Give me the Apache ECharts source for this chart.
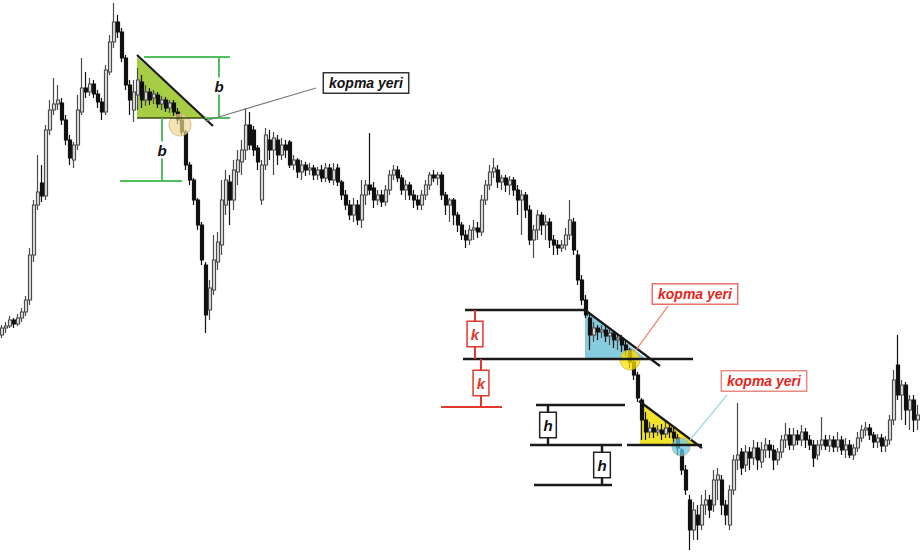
<!DOCTYPE html>
<html><head><meta charset="utf-8">
<script src="https://cdn.jsdelivr.net/npm/echarts@6/dist/echarts.min.js"></script>
<style>html,body{margin:0;padding:0;background:#fff}#c{width:920px;height:557px}</style>
</head><body><div id="c"></div>
<script>
// candles: [open, close, low, high]
const ohlc = [
[225,232,222,235],[232,234,227,238],[234,240,232,244],[240,236,232,242],[236,242,234,246],[242,248,238,252],[248,260,244,264],[260,305,255,312],[305,355,298,360],[355,368,350,405],
[377,364,358,395],[364,430,360,435],[430,450,425,460],[450,456,445,482],[456,460,450,475],[457,440,435,462],[440,420,415,445],[420,402,395,425],[400,415,392,418],[415,450,410,465],
[448,472,445,502],[472,468,462,488],[468,476,464,482],[476,466,462,480],[466,458,452,470],[458,448,440,462],[448,490,445,495],[488,518,485,525],[518,538,512,557],[538,528,522,545],
[528,502,498,532],[502,475,470,505],[475,460,445,480],[450,468,438,480],[465,480,450,492],[478,460,452,485],[460,468,454,475],[468,460,455,472],[462,466,456,470],[465,456,452,468],
[456,460,450,464],[460,452,448,463],[452,457,447,460],[457,448,444,460],[448,440,436,452],[440,428,425,445],[428,395,390,430],[395,380,375,398],[380,360,355,382],[360,335,330,362],
[335,300,295,338],[295,245,227,298],[250,272,240,280],[270,300,265,325],[298,318,290,328],[315,360,305,380],[355,380,345,390],[378,360,335,385],[360,390,350,400],[388,400,375,410],
[398,410,385,420],[410,435,400,452],[435,415,410,448],[430,410,404,434],[412,398,390,415],[360,395,355,400],[395,425,390,432],[420,410,400,430],[410,422,385,428],[420,405,395,425],
[405,415,400,422],[415,410,402,420],[418,395,392,420],[395,400,390,405],[400,388,382,402],[388,395,380,400],[395,390,384,398],[390,392,385,397],[392,385,380,395],[385,390,380,393],
[390,382,378,395],[382,392,378,397],[392,380,377,396],[380,390,375,397],[392,378,374,396],[378,365,360,380],[365,355,350,370],[355,345,340,360],[345,355,338,362],[355,340,335,360],
[340,365,332,380],[365,375,355,380],[375,370,365,427],[372,360,352,378],[360,365,355,370],[365,358,353,370],[358,370,354,375],[370,385,365,390],[385,390,380,395],[390,382,378,394],
[382,370,365,385],[370,375,360,380],[375,365,360,378],[365,360,352,370],[360,355,350,365],[355,365,350,370],[365,375,360,380],[375,385,370,388],[385,382,378,390],[382,385,375,388],
[385,365,360,388],[365,355,345,368],[355,360,338,362],[360,345,335,362],[345,335,328,348],[335,325,320,338],[325,320,312,330],[320,330,315,335],[330,332,320,340],[332,328,322,338],
[328,360,324,365],[360,375,355,380],[375,388,370,395],[388,392,382,402],[390,378,372,395],[378,382,370,385],[382,375,368,385],[375,380,365,384],[380,370,364,383],[370,360,345,375],
[360,365,325,370],[365,350,342,368],[350,320,315,355],[320,330,302,335],[330,345,320,350],[345,335,325,348],[335,338,320,345],[338,320,312,342],[320,315,305,325],[315,312,305,320],
[312,315,308,320],[315,325,310,332],[325,340,320,360],[338,310,305,342],[305,280,275,310],[280,260,255,285],[260,245,242,265],[242,225,210,248],[225,232,218,238],[232,228,220,235],
[228,230,222,235],[230,224,218,234],[224,227,215,232],[227,220,212,230],[220,222,210,226],[222,215,208,225],[215,210,204,220],[210,198,192,212],[198,185,180,200],[185,162,158,188],
[160,140,120,162],[140,128,120,148],[128,132,122,138],[132,128,122,136],[128,130,124,135],[130,126,120,136],[126,132,122,140],[132,128,122,136],[128,122,116,132],[122,112,105,126],
[110,90,85,112],[90,70,65,95],[60,30,10,65],[30,50,20,58],[45,35,20,55],[35,55,30,65],[55,60,45,70],[60,50,42,65],[55,80,48,90],[80,85,60,92],
[80,55,45,85],[55,45,35,60],[35,70,30,75],[70,100,65,105],[100,105,90,157],[108,92,85,112],[95,108,88,115],[108,102,90,113],[102,112,95,120],[112,100,90,118],
[98,110,92,118],[110,115,102,122],[115,110,102,120],[110,100,90,115],[100,108,95,112],[108,120,102,125],[120,125,112,137],[125,115,110,132],[115,125,110,132],[125,120,115,130],
[120,128,114,135],[128,120,112,132],[120,115,110,125],[115,102,93,120],[105,115,100,120],[115,120,110,143],[120,114,110,125],[114,120,108,125],[120,113,108,124],[113,120,108,128],
[120,110,105,124],[110,115,102,122],[115,105,102,120],[105,112,100,116],[112,122,108,128],[122,130,118,135],[130,132,124,138],[132,125,120,136],[125,118,112,128],[118,122,112,126],
[122,114,108,126],[114,120,108,124],[120,140,115,145],[140,180,135,190],[195,165,160,225],[165,175,140,180],[175,150,135,178],[150,160,130,165],[160,140,128,165],[140,145,130,155]
];
const days = ohlc.map((_, i) => i + 1);

// annotation anchors in (candle index, price)
const triangles = [
  [[33.75,503],[33.75,442],[50.75,442]],
  [[145.75,250],[145.75,202],[160.75,202]],
  [[159.5,160],[159.5,115],[174,115]]
];
const triangleFills = ['rgba(150,196,35,0.85)','rgba(105,190,215,0.8)','rgba(242,224,20,0.9)'];
const hypotenuses = [
  [[33.75,505],[52.75,434]],
  [[145.75,250],[164.5,194]],
  [[159.25,159],[175,112]]
];
const greenBase = [[[33.75,442],[50.75,442]]];
const bLines = [
  [[35.5,503],[57,503]], [[50.75,442],[57,442]],
  [[54.25,503],[54.25,442]], [[40,442],[40,379]], [[29.5,379],[45,379]]
];
const kBlackLines = [ [[115.75,250],[145.75,250]], [[115.25,201],[172.75,201]] ];
const kRedLines = [ [[109.75,153],[125,153]], [[118.25,250],[118.25,201]], [[119.75,201],[119.75,153]] ];
const hLines = [
  [[133.5,155],[155.75,155]], [[132,115],[155,115]], [[156.25,115],[175,115]],
  [[133,75],[152.5,75]], [[136.5,155],[136.5,115]], [[150,115],[150,75]]
];
const leaders = [ [[78.5,472],[50.75,439]], [[166.5,254],[158.5,210]], [[181.25,165],[172,120]] ];
const leaderColors = ['#7a7a7a','#f0705a','#9fd8e8'];
const kopmaLabels = [[91,477],[173.25,266],[190.5,179]];
const kopmaText = 'kopma yeri';
const bLabels = [[54.25,474],[40,410]];
const kLabels = [[118.25,226],[119.75,177]];
const hLabels = [[136.5,135],[150,95]];
const circles = [[44.5,435],[157,200],[169.75,113]];
const circleFills = ['rgba(240,215,150,0.7)','rgba(250,225,0,0.75)','rgba(110,200,230,0.75)'];

const chart = echarts.init(document.getElementById('c'), null, {renderer: 'svg'});
const seg = (arr, color, width) => arr.map(c => ({coords: c, lineStyle: {color, width, opacity: 1}}));
const FONT = 'Liberation Sans';
function labelSeries(data, label) {
  return {type: 'scatter', xAxisIndex: 1, yAxisIndex: 0, data, symbolSize: 1, z: 20,
    itemStyle: {color: 'transparent', opacity: 1}, silent: true,
    label: Object.assign({show: true, position: 'inside', fontFamily: FONT, fontStyle: 'italic', fontWeight: 'bold', opacity: 1}, label)};
}
chart.setOption({
  animation: false,
  backgroundColor: '#fff',
  grid: {left: 0, right: 0, top: 0, bottom: 0},
  xAxis: [
    {type: 'category', data: days, show: false},
    {type: 'value', min: -0.5, max: ohlc.length - 0.5, show: false}
  ],
  yAxis: [{type: 'value', min: 3, max: 560, show: false}],
  series: [
    {type: 'custom', xAxisIndex: 1, yAxisIndex: 0, z: 1, silent: true,
     data: triangles.map((t, i) => [t[0][0], t[0][1], i]),
     renderItem: (params, api) => {
       const i = api.value(2);
       return {type: 'polygon', shape: {points: triangles[i].map(p => api.coord(p))},
               style: {fill: triangleFills[i], stroke: null}};
     }},
    {type: 'candlestick', xAxisIndex: 0, yAxisIndex: 0, data: ohlc, barWidth: '78%', z: 5,
     itemStyle: {color: '#e6e6e6', color0: '#111111', borderColor: '#4a4a4a', borderColor0: '#111111', borderWidth: 1.2}},
    {type: 'scatter', xAxisIndex: 1, yAxisIndex: 0, data: circles, z: 8, silent: true,
     symbolSize: (v, p) => [22, 20, 18][p.dataIndex],
     itemStyle: {color: p => circleFills[p.dataIndex], opacity: 1, borderColor: 'rgba(190,160,90,0.6)', borderWidth: 1}},
    {type: 'lines', coordinateSystem: 'cartesian2d', xAxisIndex: 1, yAxisIndex: 0, z: 10, silent: true,
     lineStyle: {opacity: 1},
     data: [].concat(
       seg(hypotenuses, '#1a1a1a', 2.2),
       seg(greenBase, '#3a4a10', 1.5),
       seg(bLines, '#4fbf60', 2),
       seg(kBlackLines, '#1a1a1a', 2.4),
       seg(kRedLines, '#e0392e', 2),
       seg(hLines, '#1a1a1a', 2.4),
       leaders.map((c, i) => ({coords: c, lineStyle: {color: leaderColors[i], width: 1.2, opacity: 1}}))
     )},
    labelSeries(kopmaLabels.map((p, i) => ({value: p, label: {
      color: i === 0 ? '#111' : '#e3261c',
      borderColor: i === 0 ? '#333' : (i === 1 ? '#e8716a' : '#eb8a80')
    }})), {
      formatter: kopmaText, fontSize: 14, backgroundColor: '#fff', padding: [3, 5, 2, 5], borderWidth: 1.5
    }),
    labelSeries(bLabels, {formatter: 'b', fontSize: 15, color: '#111', backgroundColor: '#fff', padding: [1, 2]}),
    labelSeries(kLabels, {formatter: 'k', fontSize: 15, color: '#e0392e', backgroundColor: '#fff', borderColor: '#e0392e', borderWidth: 1.5, padding: [5, 3, 4, 3]}),
    labelSeries(hLabels, {formatter: 'h', fontSize: 15, color: '#111', backgroundColor: '#fff', borderColor: '#222', borderWidth: 1.5, padding: [5, 3, 4, 3]})
  ]
});
</script></body></html>
